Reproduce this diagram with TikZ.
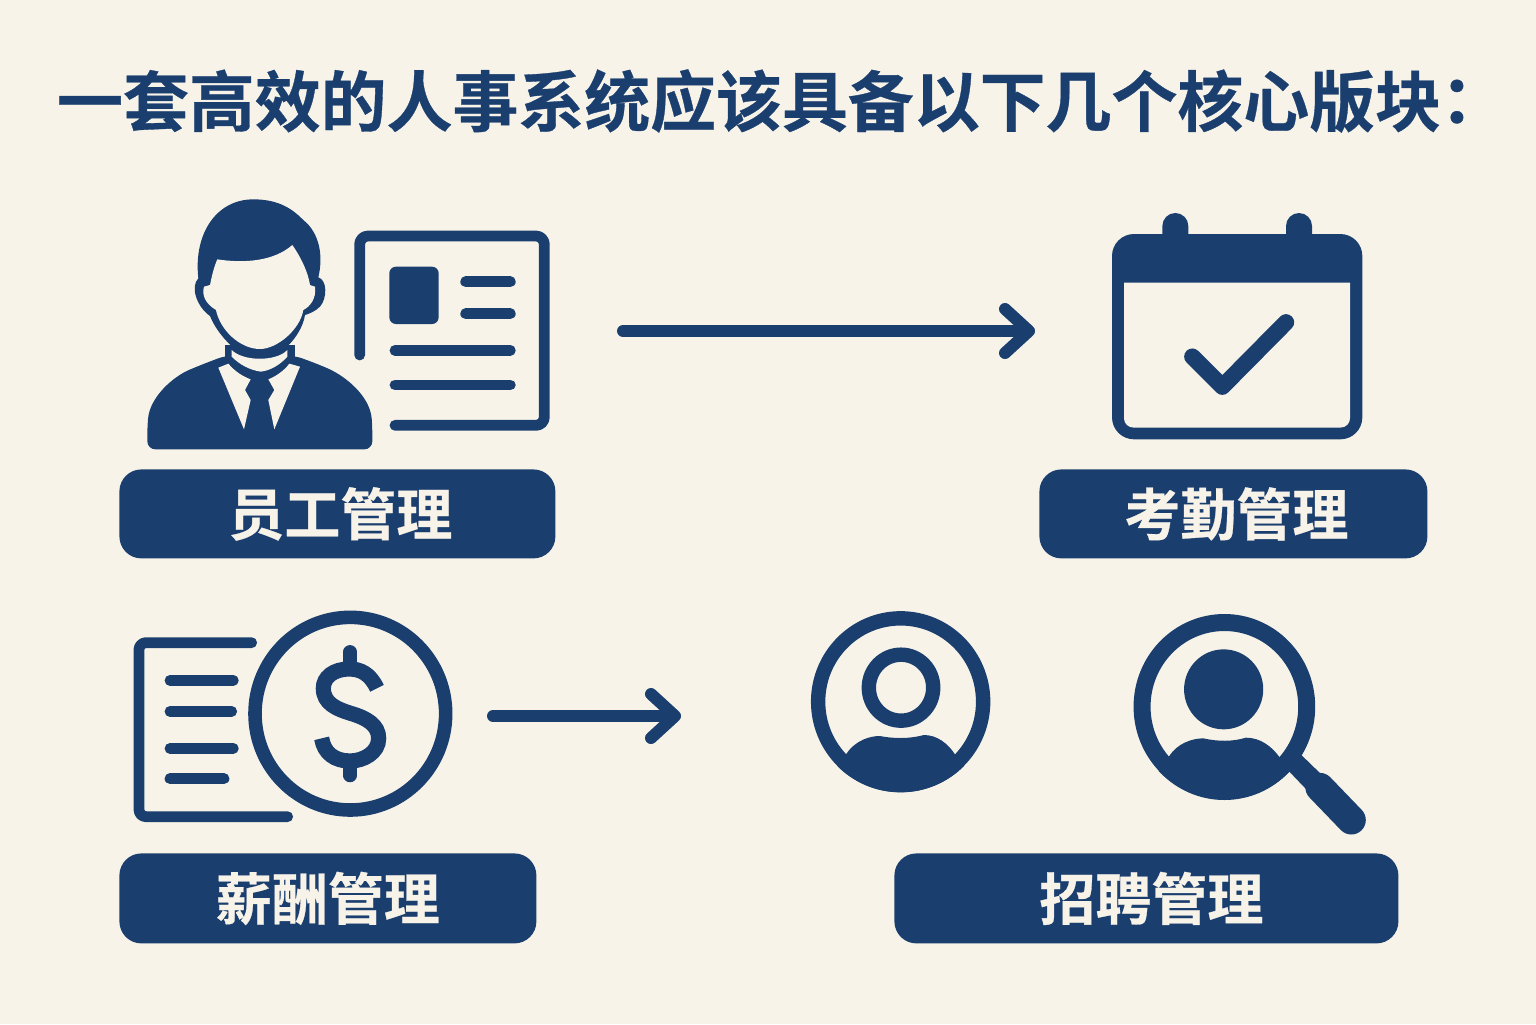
\documentclass[tikz,border=0pt]{standalone}
\usepackage{fontspec}
\newfontfamily\cjk{Noto Sans CJK SC Bold}[FakeBold=0.5]
\newfontfamily\cjktc{Noto Sans CJK TC Bold}[FakeBold=0.5]
\usetikzlibrary{arrows.meta}
\definecolor{navy}{HTML}{1A3E6E}
\definecolor{paper}{HTML}{F8F3E9}
\newcommand{\pilltext}[2]{\hspace*{#1}\raisebox{-1pt}{#2}}
\tikzset{
  x=0.5pt,y=-0.5pt,
  pill/.style={fill=navy,rounded corners=11pt,text=paper,inner sep=0pt,anchor=north west,font=\cjk\fontsize{28pt}{30pt}\selectfont},
  titletext/.style={text=navy,inner sep=0pt,font=\cjk\fontsize{32.95pt}{36pt}\selectfont},
  flow/.style={draw=navy,line width=6pt,line cap=round,-{Straight Barb[length=12pt,width=22pt,round,line width=6pt]}},
  bar/.style={draw=navy,line width=5.4pt,line cap=round,line join=round},
  icon/.style={shift={#1},scale=1/3},
  wideicon/.style={shift={#1},xscale=0.37,yscale=1/3},
}
\begin{document}
\begin{tikzpicture}
\useasboundingbox (0,0) rectangle (1536,1024);
\fill[paper] (0,0) rectangle (1536,1024);
% title
\node[titletext] (title) at (773.5,101) {一套高效的人事系统应该具备以下几个核心版块{\cjktc\kern-8.5pt：}};
% labels
\node[pill,minimum width=218pt,minimum height=44.5pt] (staff) at (119,469) {\pilltext{3pt}{员工管理}};
\node[pill,minimum width=194pt,minimum height=44.5pt] (attend) at (1039,469) {\pilltext{3pt}{考勤管理}};
\node[pill,minimum width=208.5pt,minimum height=45pt] (pay) at (119,853) {\pilltext{0pt}{薪酬管理}};
\node[pill,minimum width=252pt,minimum height=45pt] (recruit) at (894,853) {\pilltext{5pt}{招聘管理}};
% arrows
\coordinate (a1s) at (623,331);
\coordinate (a1e) at (1035,331);
\coordinate (a2s) at (493,716);
\coordinate (a2e) at (681,716);
\draw[flow] (a1s) -- (a1e);
\draw[flow] (a2s) -- (a2e);
% person with card
\begin{scope}[icon={(130,190)}]
  \fill[navy] (205,265) .. controls (190,130) and (260,28) .. (370,28)
    .. controls (450,28) and (490,60) .. (520,90)
    .. controls (570,130) and (580,200) .. (565,262)
    .. controls (592,270) and (592,325) .. (570,350)
    .. controls (555,365) and (535,372) .. (525,375)
    .. controls (515,440) and (445,510) .. (390,510)
    .. controls (335,510) and (265,440) .. (240,378)
    .. controls (200,350) and (180,290) .. (205,265) -- cycle;
  \fill[navy] (284,465) rectangle (496,530);
  \fill[navy,rounded corners=4pt] (52,778) -- (52,710)
    .. controls (60,620) and (130,560) .. (200,530)
    -- (285,497) -- (495,497) -- (570,525)
    .. controls (650,560) and (720,620) .. (727,710) -- (727,778) -- cycle;
  \fill[paper] (262,208) .. controls (340,220) and (430,215) .. (487,165)
    .. controls (515,205) and (535,250) .. (540,285)
    -- (555,290)
    .. controls (560,325) and (540,350) .. (520,360)
    .. controls (510,420) and (440,477) .. (390,477)
    .. controls (330,477) and (270,420) .. (258,360)
    .. controls (225,340) and (215,315) .. (222,290)
    -- (240,285) .. controls (245,260) and (252,230) .. (262,208) -- cycle;
  \fill[paper] (305,480) .. controls (340,515) and (440,515) .. (472,480)
    -- (472,500) .. controls (450,525) and (420,542) .. (392,545)
    .. controls (360,540) and (330,525) .. (305,500) -- cycle;
  \fill[paper] (265,533) -- (295,521) .. controls (315,545) and (340,560) .. (362,568)
    -- (345,600) -- (362,630) -- (342,718) -- cycle;
  \fill[paper] (510,530) -- (478,521) .. controls (460,545) and (435,560) .. (415,568)
    -- (433,600) -- (415,630) -- (433,718) -- cycle;
  \draw[bar,rounded corners=4.2pt] (689,495) -- (689,138) -- (1243,138) -- (1243,706) -- (795,706);
  \fill[navy,rounded corners=3.3pt] (778,230) rectangle (926,402);
  \draw[bar] (1007,275) -- (1141,275) (1007,371) -- (1141,371)
    (795,481) -- (1141,481) (795,585) -- (1141,585);
\end{scope}
% calendar
\begin{scope}[icon={(1100,205)}]
  \fill[navy,rounded corners=11pt] (36,87) rectangle (787,703);
  \fill[navy] (187,100) -- (187,63) arc[start angle=180,end angle=0,x radius=39,y radius=-39] -- (265,100) -- cycle;
  \fill[navy] (558,100) -- (558,63) arc[start angle=180,end angle=0,x radius=39,y radius=-39] -- (636,100) -- cycle;
  \fill[paper] (72,233) -- (750,233) -- (750,640)
    .. controls (750,655) and (738,668) .. (720,668) -- (102,668)
    .. controls (84,668) and (72,655) .. (72,640) -- cycle;
  \draw[navy,line width=8.2pt,line cap=round,line join=round] (277,455) -- (367,545) -- (558,352);
\end{scope}
% pay icon
\begin{scope}[icon={(120,600)}]
  \draw[bar,rounded corners=3.5pt] (395,128) -- (57,128) -- (57,650) -- (503,650);
  \draw[bar] (150,241) -- (340,241) (150,334) -- (335,334) (150,445) -- (340,445) (150,536) -- (312,536);
  \draw[navy,line width=6.8pt] (691,341) circle[x radius=286,y radius=289];
  \draw[navy,line width=7.6pt] (771,265) .. controls (750,220) and (720,207) .. (688,207)
    .. controls (640,207) and (610,232) .. (610,265)
    .. controls (610,310) and (650,327) .. (692,340)
    .. controls (740,354) and (776,375) .. (776,415)
    .. controls (776,458) and (730,483) .. (690,483)
    .. controls (645,483) and (612,460) .. (605,415);
  \draw[navy,line width=6.6pt,line cap=round] (690,155) -- (690,195) (690,490) -- (690,527);
\end{scope}
% user in circle
\begin{scope}[wideicon={(800,600)}]
  \begin{scope}
    \clip (272,305) circle[x radius=243,y radius=272];
    \fill[navy] (125,462) .. controls (150,420) and (190,408) .. (215,408)
      .. controls (250,415) and (290,418) .. (335,405)
      .. controls (370,405) and (400,430) .. (420,465) -- (520,600) -- (30,600) -- cycle;
  \end{scope}
  \draw[navy,line width=7.2pt] (272,305) circle[x radius=223,y radius=250];
  \draw[navy,line width=7.2pt] (273,263) circle[x radius=87,y radius=99];
\end{scope}
% search icon
\begin{scope}[wideicon={(800,600)}]
  \fill[navy] (1355,465) -- (1420,535) -- (1370,570) -- (1320,512) -- cycle;
  \draw[navy,line width=14.5pt,line cap=round] (1405,562) -- (1490,660);
  \begin{scope}
    \clip (1147,320) circle[x radius=245,y radius=280];
    \fill[navy] (998,468) .. controls (1020,430) and (1060,415) .. (1090,415)
      .. controls (1130,425) and (1170,425) .. (1205,413)
      .. controls (1245,413) and (1275,440) .. (1295,470) -- (1400,620) -- (900,620) -- cycle;
  \end{scope}
  \draw[navy,line width=8.5pt] (1147,320) circle[x radius=222.5,y radius=252.5];
  \fill[navy] (1145,268) circle[x radius=107,y radius=120];
\end{scope}
\end{tikzpicture}
\end{document}
